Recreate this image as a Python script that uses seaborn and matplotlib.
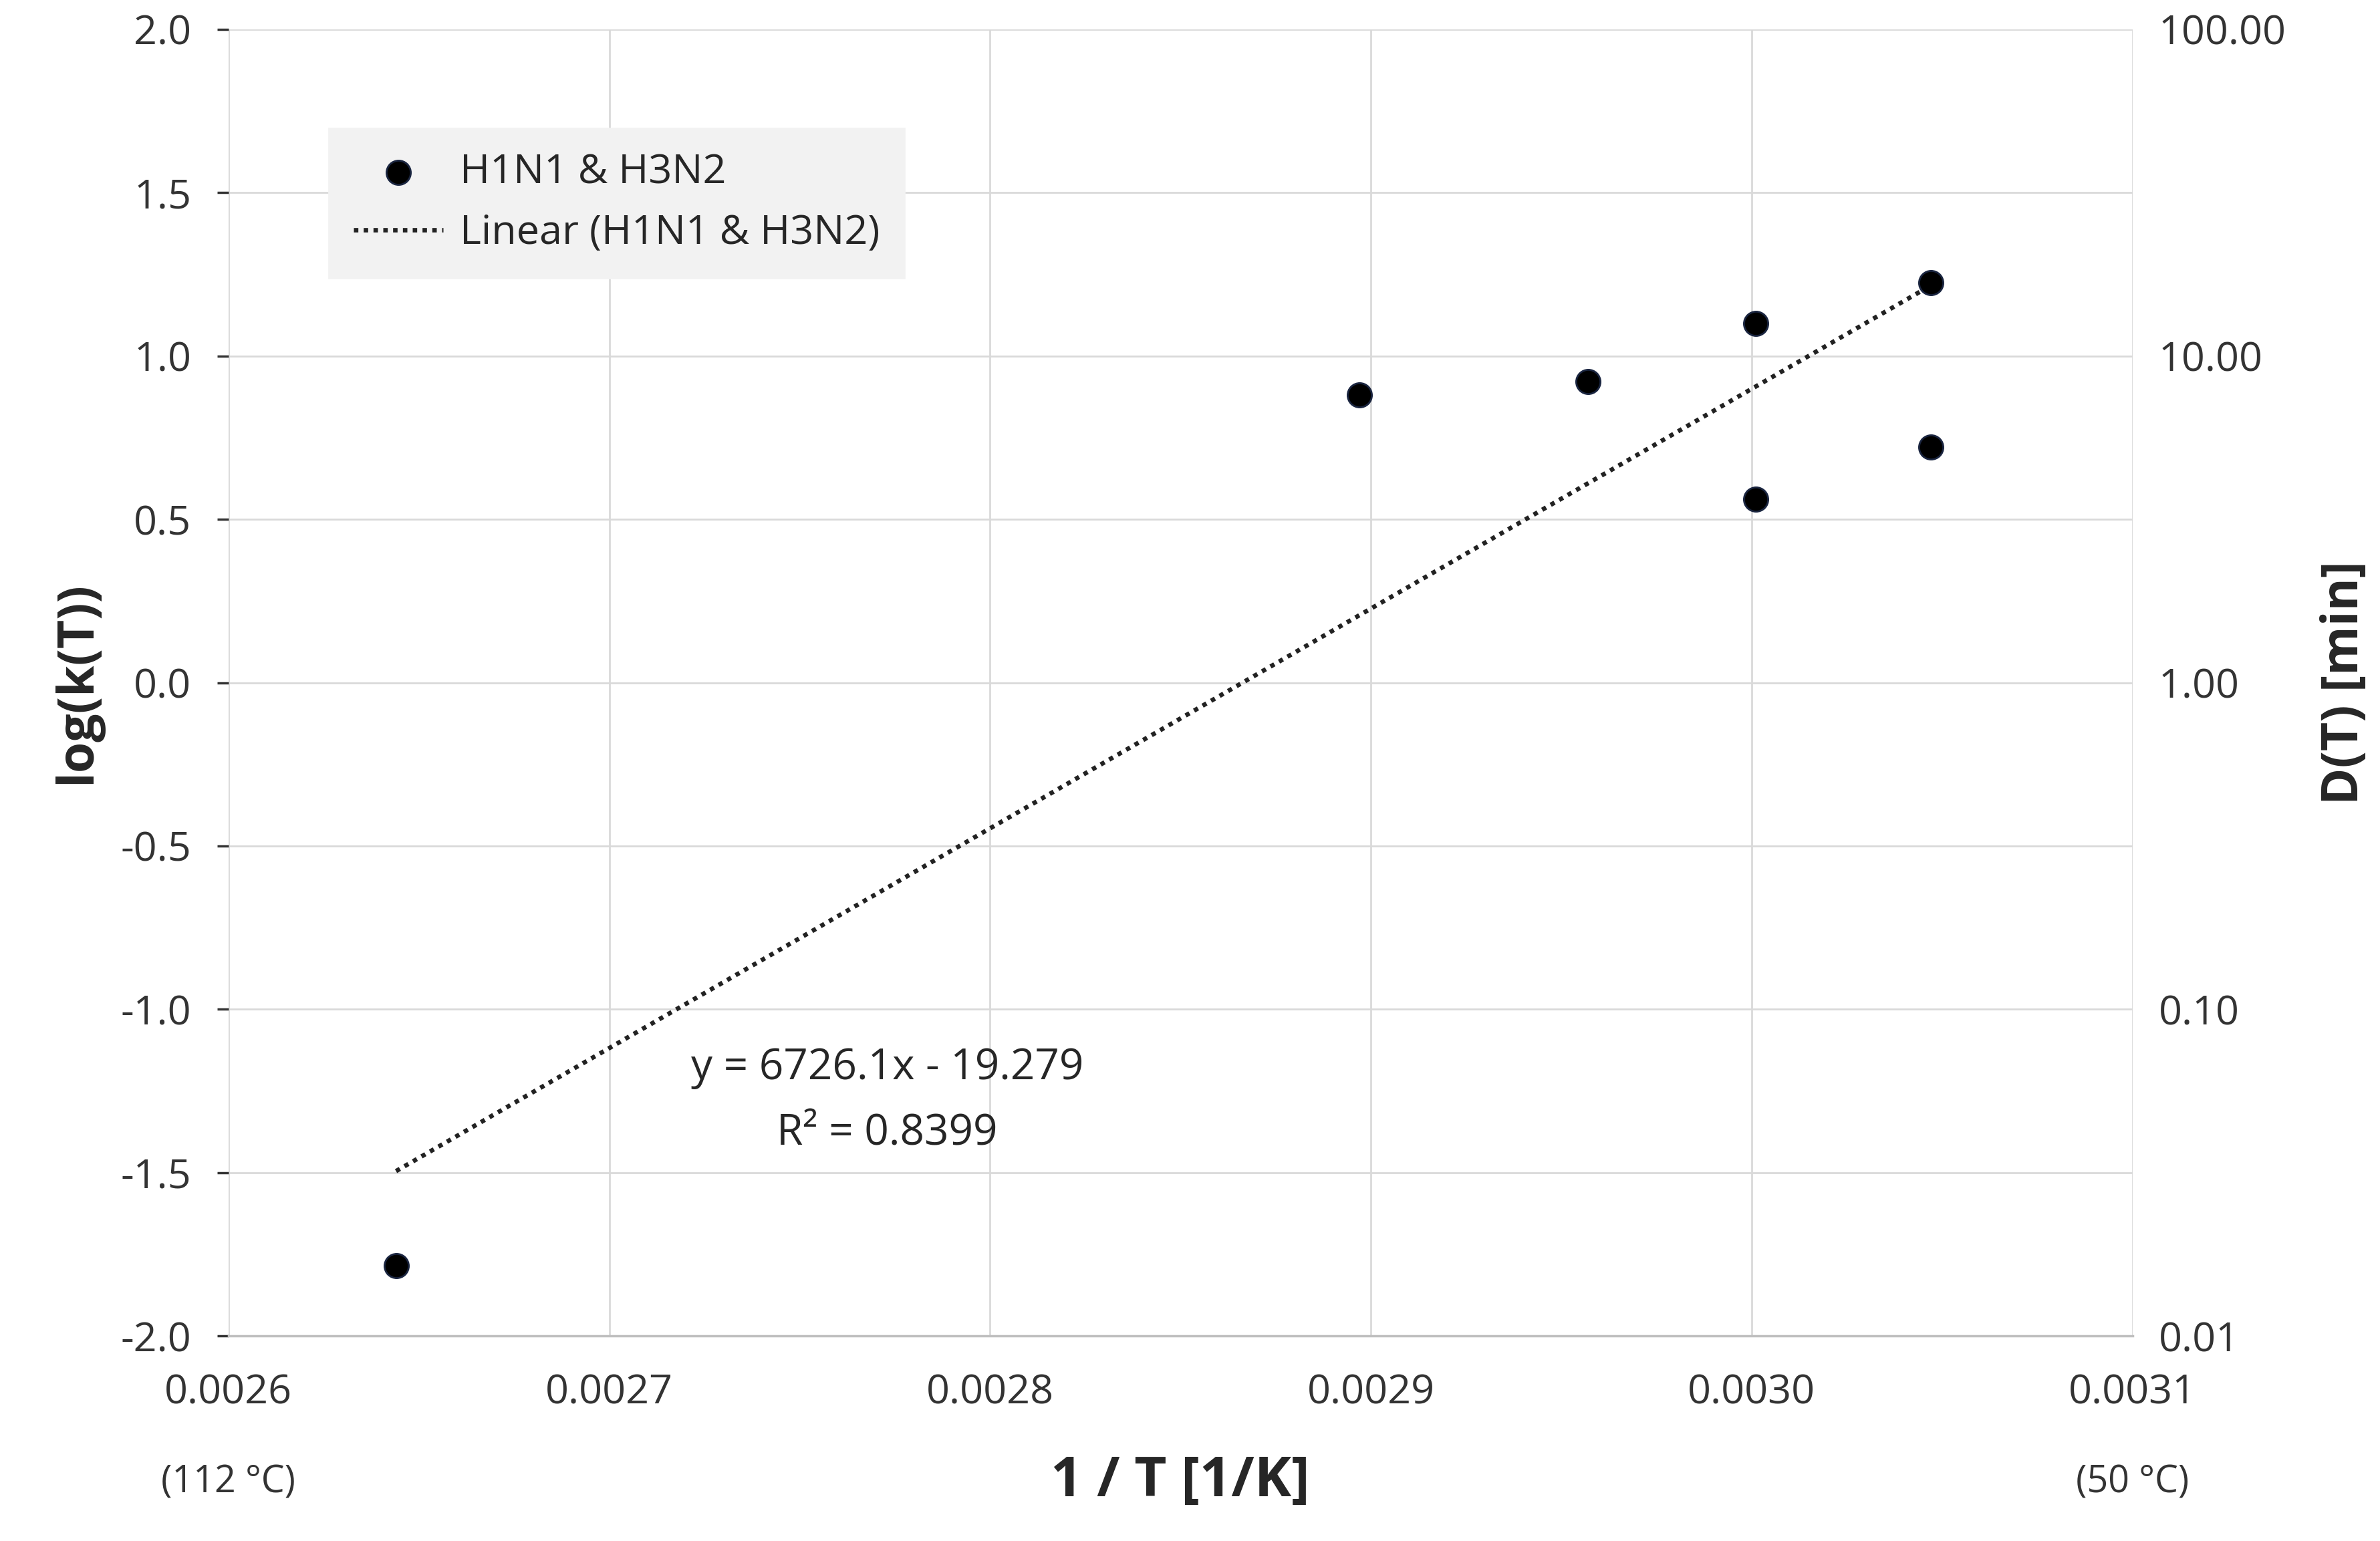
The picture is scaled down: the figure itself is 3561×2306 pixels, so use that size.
import numpy as np
import pandas as pd
import matplotlib
matplotlib.use("Agg")
import matplotlib.pyplot as plt
import matplotlib.ticker as mticker
import seaborn as sns

# data
inv_t = [0.002644, 0.002897, 0.002957, 0.003001, 0.003001, 0.003047, 0.003047]
log_k = [-1.785, 0.880, 0.922, 1.099, 0.562, 1.225, 0.721]
slope = 6726.1
intercept = -19.279
r2 = 0.8399

df = pd.DataFrame({"x": inv_t, "y": log_k})

sns.set_theme(style="whitegrid")
plt.rcParams["font.family"] = ["Open Sans", "DejaVu Sans"]

fig = plt.figure(figsize=(17.805, 11.53), dpi=200)
ax = fig.add_axes([0.096, 0.133, 0.80, 0.848])

sns.scatterplot(data=df, x="x", y="y", ax=ax, color="black", s=170,
                edgecolor="#1a2540", linewidth=1, label="H1N1 & H3N2", zorder=3)

xf = np.array([min(inv_t), max(inv_t)])
ax.plot(xf, slope * xf + intercept, color="#222222", linestyle=(0, (1, 1.2)),
        linewidth=2.4, label="Linear (H1N1 & H3N2)")

ax.set_xlim(0.0026, 0.0031)
ax.set_ylim(-2.0, 2.0)
ax.xaxis.set_major_locator(mticker.MultipleLocator(0.0001))
ax.yaxis.set_major_locator(mticker.MultipleLocator(0.5))
ax.xaxis.set_major_formatter(mticker.FormatStrFormatter("%.4f"))
ax.yaxis.set_major_formatter(mticker.FormatStrFormatter("%.1f"))
ax.tick_params(labelsize=22, colors="#333333", pad=14)
ax.grid(color="#d9d9d9", linewidth=1)
for s in ["top", "right", "left"]:
    ax.spines[s].set_visible(False)
ax.spines["bottom"].set_color("#bfbfbf")
ax.set_facecolor("white")

ax.set_xlabel("1 / T [1/K]", fontsize=30, fontweight="bold", labelpad=22)
ax.set_ylabel("log(k(T))", fontsize=27, fontweight="bold", labelpad=10)

ax.text(0.0026, -2.48, "(112 °C)", fontsize=20, ha="center", color="#333333")
ax.text(0.0031, -2.48, "(50 °C)", fontsize=20, ha="center", color="#333333")

ax.text(0.002773, -1.18, "y = 6726.1x - 19.279", fontsize=23, ha="center", va="center")
ax.text(0.002773, -1.38, f"R² = {r2}", fontsize=23, ha="center", va="center")

leg = ax.legend(loc="upper left", bbox_to_anchor=(0.042, 0.94), fontsize=22,
                frameon=True, fancybox=False, facecolor="#f2f2f2",
                edgecolor="#f2f2f2", framealpha=1, borderpad=0.6,
                handlelength=2.2, handletextpad=0.4)

ax2 = ax.twinx()
ax2.set_yscale("log")
ax2.set_ylim(0.01, 100)
ax2.yaxis.set_major_formatter(mticker.FormatStrFormatter("%.2f"))
ax2.yaxis.set_minor_locator(mticker.NullLocator())
ax2.grid(False)
ax2.tick_params(labelsize=22, colors="#333333", pad=14, length=0)
for s in ax2.spines.values():
    s.set_visible(False)
ax2.set_ylabel("D(T) [min]", fontsize=27, fontweight="bold", labelpad=18)

fig.savefig("out.png", dpi=200, facecolor="white")
